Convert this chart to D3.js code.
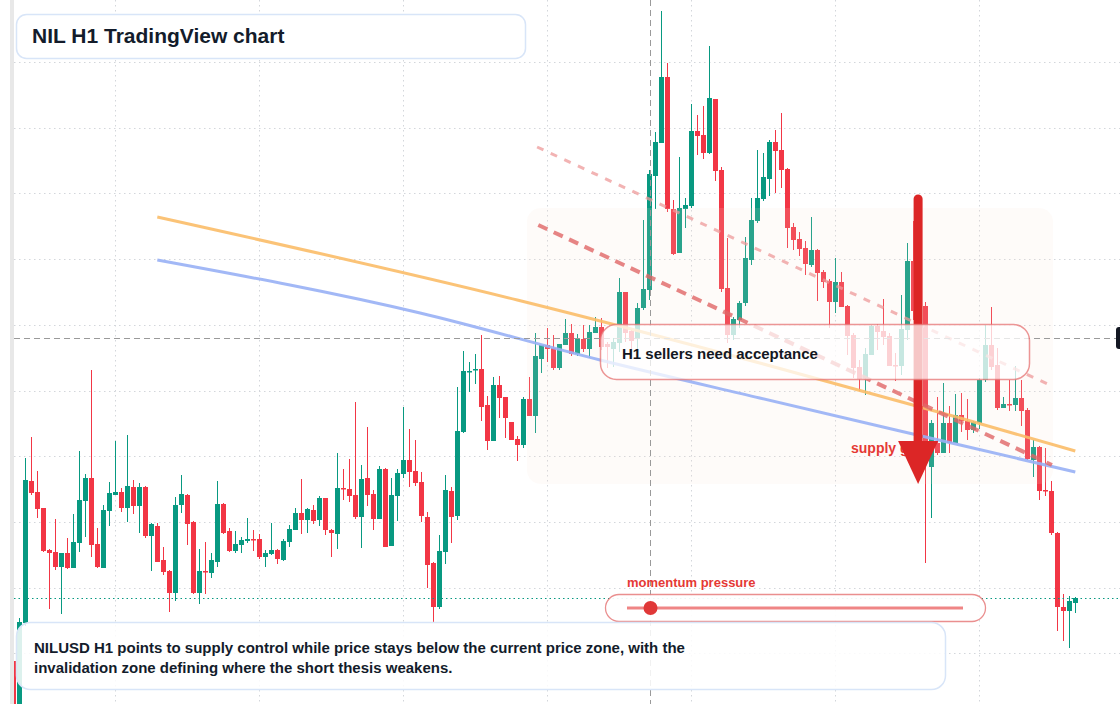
<!DOCTYPE html>
<html>
<head>
<meta charset="utf-8">
<script src="https://cdn.jsdelivr.net/npm/d3@7"></script>
<style>
  html, body { margin: 0; padding: 0; background: #fff; }
  svg { display: block; font-family: "Liberation Sans", Arial, Helvetica, sans-serif; }
</style>
</head>
<body>
<svg id="chart" width="1120" height="704"></svg>
<script>
// NILUSD H1 candles, one per hour
const opens = [
  0.339,0.280,0.377,0.519,0.508,0.492,0.450,0.448,0.433,0.447,
  0.432,0.457,0.499,0.522,0.456,0.432,0.489,0.505,0.508,0.492,
  0.513,0.494,0.513,0.464,0.474,0.440,0.429,0.407,0.495,0.505,
  0.478,0.407,0.429,0.427,0.438,0.496,0.469,0.449,0.455,0.459,
  0.461,0.461,0.443,0.446,0.450,0.440,0.458,0.470,0.487,0.480,
  0.490,0.480,0.502,0.470,0.466,0.512,0.511,0.505,0.483,0.522,
  0.506,0.481,0.531,0.454,0.504,0.526,0.540,0.529,0.518,0.483,
  0.437,0.393,0.448,0.509,0.484,0.568,0.628,0.630,0.631,0.595,
  0.559,0.615,0.603,0.578,0.561,0.555,0.601,0.584,0.641,0.655,
  0.652,0.632,0.655,0.667,0.646,0.661,0.651,0.667,0.673,0.656,
  0.651,0.657,0.708,0.669,0.662,0.692,0.710,0.824,0.857,0.923,
  0.791,0.747,0.791,0.794,0.869,0.865,0.847,0.901,0.830,0.712,
  0.665,0.680,0.697,0.740,0.779,0.801,0.821,0.858,0.850,0.831,
  0.773,0.761,0.752,0.735,0.750,0.728,0.719,0.698,0.718,0.694,
  0.665,0.633,0.622,0.645,0.674,0.669,0.664,0.635,0.634,0.670,
  0.739,0.689,0.694,0.533,0.557,0.547,0.577,0.557,0.585,0.579,
  0.570,0.577,0.620,0.655,0.635,0.592,0.596,0.595,0.602,0.590,
  0.540,0.553,0.510,0.509,0.467,0.393,0.389,0.397
];
const highs = [
  0.340,0.382,0.542,0.563,0.529,0.492,0.451,0.481,0.447,0.462,
  0.486,0.549,0.526,0.630,0.472,0.495,0.518,0.559,0.512,0.565,
  0.520,0.517,0.514,0.477,0.477,0.453,0.430,0.503,0.525,0.506,
  0.479,0.451,0.458,0.447,0.519,0.497,0.472,0.469,0.463,0.482,
  0.470,0.466,0.450,0.477,0.451,0.461,0.475,0.492,0.521,0.492,
  0.495,0.504,0.502,0.471,0.547,0.531,0.541,0.598,0.535,0.573,
  0.510,0.534,0.532,0.522,0.531,0.593,0.571,0.560,0.528,0.488,
  0.438,0.465,0.525,0.513,0.613,0.649,0.638,0.646,0.665,0.604,
  0.623,0.624,0.603,0.578,0.564,0.603,0.623,0.667,0.655,0.672,
  0.665,0.656,0.681,0.676,0.666,0.675,0.675,0.683,0.682,0.658,
  0.662,0.722,0.708,0.670,0.697,0.780,0.830,0.868,0.989,0.937,
  0.800,0.843,0.802,0.896,0.885,0.894,0.954,0.901,0.833,0.762,
  0.683,0.699,0.763,0.802,0.850,0.847,0.860,0.870,0.887,0.832,
  0.777,0.768,0.759,0.783,0.751,0.730,0.721,0.742,0.728,0.695,
  0.667,0.640,0.652,0.675,0.676,0.701,0.667,0.647,0.705,0.757,
  0.779,0.720,0.698,0.580,0.603,0.617,0.594,0.606,0.607,0.601,
  0.579,0.622,0.675,0.693,0.652,0.603,0.620,0.634,0.620,0.592,
  0.560,0.554,0.552,0.519,0.468,0.406,0.404,0.403
];
const lows = [
  0.270,0.275,0.374,0.505,0.482,0.448,0.391,0.430,0.386,0.431,
  0.432,0.448,0.463,0.443,0.432,0.432,0.474,0.505,0.488,0.478,
  0.486,0.467,0.462,0.429,0.438,0.425,0.388,0.399,0.487,0.455,
  0.406,0.396,0.406,0.422,0.433,0.466,0.448,0.447,0.447,0.457,
  0.449,0.441,0.433,0.445,0.436,0.439,0.453,0.470,0.466,0.467,
  0.476,0.474,0.465,0.443,0.451,0.500,0.498,0.481,0.452,0.494,
  0.470,0.481,0.453,0.454,0.479,0.522,0.513,0.514,0.478,0.412,
  0.378,0.391,0.436,0.457,0.480,0.567,0.608,0.616,0.579,0.550,
  0.559,0.582,0.562,0.560,0.539,0.552,0.584,0.567,0.627,0.638,
  0.630,0.630,0.655,0.644,0.644,0.648,0.642,0.667,0.650,0.632,
  0.633,0.648,0.658,0.643,0.648,0.690,0.700,0.791,0.857,0.788,
  0.745,0.747,0.772,0.792,0.845,0.841,0.846,0.819,0.708,0.657,
  0.660,0.672,0.694,0.735,0.777,0.799,0.804,0.807,0.812,0.752,
  0.750,0.744,0.725,0.733,0.699,0.712,0.672,0.687,0.693,0.645,
  0.622,0.609,0.605,0.645,0.650,0.655,0.634,0.619,0.625,0.660,
  0.680,0.660,0.437,0.482,0.545,0.547,0.547,0.557,0.568,0.560,
  0.567,0.571,0.618,0.630,0.590,0.592,0.589,0.589,0.574,0.540,
  0.523,0.500,0.504,0.465,0.369,0.359,0.352,0.387
];
const closes = [
  0.275,0.378,0.520,0.507,0.491,0.449,0.447,0.433,0.447,0.432,
  0.458,0.500,0.522,0.455,0.433,0.490,0.507,0.508,0.492,0.514,
  0.494,0.513,0.464,0.476,0.438,0.428,0.407,0.495,0.506,0.476,
  0.407,0.429,0.428,0.440,0.496,0.467,0.449,0.456,0.460,0.461,
  0.460,0.443,0.447,0.450,0.441,0.459,0.471,0.487,0.480,0.491,
  0.479,0.502,0.470,0.467,0.512,0.511,0.504,0.483,0.521,0.505,
  0.481,0.531,0.453,0.505,0.527,0.540,0.528,0.517,0.484,0.435,
  0.393,0.449,0.510,0.483,0.569,0.629,0.629,0.631,0.593,0.559,
  0.615,0.602,0.582,0.560,0.555,0.601,0.584,0.644,0.655,0.651,
  0.632,0.656,0.667,0.646,0.662,0.651,0.668,0.673,0.653,0.653,
  0.658,0.708,0.667,0.659,0.692,0.711,0.826,0.858,0.923,0.791,
  0.746,0.792,0.795,0.869,0.864,0.847,0.902,0.829,0.711,0.665,
  0.681,0.697,0.742,0.780,0.802,0.823,0.858,0.849,0.830,0.772,
  0.760,0.751,0.736,0.750,0.727,0.718,0.698,0.718,0.693,0.664,
  0.632,0.621,0.646,0.674,0.668,0.663,0.634,0.634,0.671,0.739,
  0.689,0.697,0.557,0.577,0.547,0.577,0.557,0.585,0.579,0.570,
  0.578,0.620,0.655,0.633,0.592,0.596,0.595,0.602,0.589,0.541,
  0.553,0.509,0.509,0.467,0.393,0.389,0.399,0.402
];

// horizontal grid levels
const gridPrices = [0.938, 0.872, 0.807, 0.741, 0.675, 0.609, 0.544, 0.478, 0.412, 0.347];

// moving averages as [candle index, price]
const emaFast = [[24,0.783],[84,0.700],[124.4,0.637],[157.8,0.582],[177,0.549]];
const emaSlow = [[24,0.740],[67.8,0.687],[97.8,0.640],[124.4,0.602],[157.8,0.555],[177,0.528]];

// descending channel
const upperTrend = [[87.3,0.853],[173.1,0.614]];
const lowerTrend = [[87.5,0.775],[173.1,0.535]];

// supply zone [start idx, end idx], [top, bottom]
const zoneIdx = [85.6, 173.3];
const zonePrices = [0.792, 0.516];

const crossIdx = 106.1;
const crossPrice = 0.662;
const lastPrice = 0.402;

// bearish arrow: index, from price, head base, tip
const arrowIdx = 150.8;
const arrowPrices = [0.805, 0.559, 0.516];

const momentumValue = [0.07];

const titleText = "NIL H1 TradingView chart";
const noteText = "H1 sellers need acceptance";
const zoneLabel = "supply gap";
const momentumLabel = "momentum pressure";
const summaryLines = [
  "NILUSD H1 points to supply control while price stays below the current price zone, with the",
  "invalidation zone defining where the short thesis weakens."
];

const UP = "#089981", DOWN = "#f23645";
const W = 1120, H = 704;
const HOUR = 3600e3;
const t0 = Date.UTC(2025, 4, 12, 7);

const times = opens.map((d, i) => new Date(t0 + i * HOUR));
const candles = times.map((t, i) => ({ t, o: opens[i], h: highs[i], l: lows[i], c: closes[i] }));

const x = d3.scaleUtc().domain([times[0], times[times.length - 1]]).range([13.3, 1075.3]);
const xi = i => x(new Date(t0 + i * HOUR));
const y = d3.scaleLinear().domain([0.296, 1.0]).range([H, 0]);

const svg = d3.select("#chart");
svg.append("rect").attr("width", W).attr("height", H).attr("fill", "#fff");

// grid
const grid = svg.append("g");
grid.selectAll("line.h")
  .data(gridPrices)
  .join("line")
  .attr("class", "h")
  .attr("x1", 14).attr("x2", W)
  .attr("y1", d => Math.round(y(d)) + 0.5)
  .attr("y2", d => Math.round(y(d)) + 0.5)
  .attr("stroke", "#d3d6db")
  .attr("stroke-dasharray", "1.5,3.5");
grid.selectAll("line.v")
  .data(x.ticks(d3.utcDay.every(1)))
  .join("line")
  .attr("class", "v")
  .attr("x1", d => Math.round(x(d)) + 0.5)
  .attr("x2", d => Math.round(x(d)) + 0.5)
  .attr("y1", 0).attr("y2", H)
  .attr("stroke", "#d3d6db")
  .attr("stroke-dasharray", "1.5,3.5");

// candles
const cg = svg.append("g");
const cs = cg.selectAll("g")
  .data(candles)
  .join("g")
  .attr("fill", d => d.c >= d.o ? UP : DOWN)
  .attr("stroke", d => d.c >= d.o ? UP : DOWN);
cs.append("line")
  .attr("x1", d => Math.round(x(d.t)) + 0.5)
  .attr("x2", d => Math.round(x(d.t)) + 0.5)
  .attr("y1", d => y(d.h))
  .attr("y2", d => y(d.l))
  .attr("stroke-width", 1);
cs.append("rect")
  .attr("stroke", "none")
  .attr("x", d => Math.round(x(d.t)) - 2)
  .attr("width", 5)
  .attr("y", d => y(Math.max(d.o, d.c)))
  .attr("height", d => Math.max(1.5, Math.abs(y(d.o) - y(d.c))));

// supply zone shade
svg.append("rect")
  .attr("x", xi(zoneIdx[0]))
  .attr("width", xi(zoneIdx[1]) - xi(zoneIdx[0]))
  .attr("y", y(zonePrices[0]))
  .attr("height", y(zonePrices[1]) - y(zonePrices[0]))
  .attr("rx", 14)
  .attr("fill", "#f8e4d4")
  .attr("opacity", 0.14);

// moving averages
const lineGen = d3.line().x(d => xi(d[0])).y(d => y(d[1])).curve(d3.curveMonotoneX);
svg.append("path").attr("d", lineGen(emaFast))
  .attr("fill", "none").attr("stroke", "#fbbd68").attr("stroke-width", 3).attr("opacity", 0.9);
svg.append("path").attr("d", lineGen(emaSlow))
  .attr("fill", "none").attr("stroke", "#98b0f5").attr("stroke-width", 3).attr("opacity", 0.9);

// channel
svg.append("path").attr("d", d3.line().x(d => xi(d[0])).y(d => y(d[1]))(upperTrend))
  .attr("fill", "none").attr("stroke", "#ee9a9a").attr("stroke-width", 3)
  .attr("stroke-dasharray", "7,8").attr("opacity", 0.75);
svg.append("path").attr("d", d3.line().x(d => xi(d[0])).y(d => y(d[1]))(lowerTrend))
  .attr("fill", "none").attr("stroke", "#e06666").attr("stroke-width", 4)
  .attr("stroke-dasharray", "10,7").attr("opacity", 0.8);

// crosshair
svg.append("line")
  .attr("x1", Math.round(xi(crossIdx)) + 0.5).attr("x2", Math.round(xi(crossIdx)) + 0.5)
  .attr("y1", 0).attr("y2", H)
  .attr("stroke", "#9a9a9a").attr("stroke-dasharray", "6,4");
svg.append("line")
  .attr("x1", 14).attr("x2", 1116)
  .attr("y1", Math.round(y(crossPrice)) + 0.5).attr("y2", Math.round(y(crossPrice)) + 0.5)
  .attr("stroke", "#9a9a9a").attr("stroke-dasharray", "6,4");

// last price line
svg.append("line")
  .attr("x1", 14).attr("x2", W)
  .attr("y1", Math.round(y(lastPrice)) + 0.5).attr("y2", Math.round(y(lastPrice)) + 0.5)
  .attr("stroke", UP).attr("stroke-width", 1.2).attr("stroke-dasharray", "1.5,3");

// zone label, partly under the arrow head
svg.append("text")
  .attr("x", 851).attr("y", 453)
  .attr("fill", "#e53935")
  .attr("font-size", 14).attr("font-weight", "bold")
  .text(zoneLabel);

// arrow
const ax = xi(arrowIdx);
svg.append("line")
  .attr("x1", ax).attr("x2", ax)
  .attr("y1", y(arrowPrices[0]) + 4).attr("y2", y(arrowPrices[1]) + 2)
  .attr("stroke", "#dc2626").attr("stroke-width", 9).attr("stroke-linecap", "round");
svg.append("path")
  .attr("d", `M${ax - 20},${y(arrowPrices[1])}L${ax + 20},${y(arrowPrices[1])}L${ax},${y(arrowPrices[2])}Z`)
  .attr("fill", "#dc2626");

// note box
svg.append("rect")
  .attr("x", 600.5).attr("y", 324.5).attr("width", 429).attr("height", 55).attr("rx", 16)
  .attr("fill", "#fff").attr("fill-opacity", 0.74)
  .attr("stroke", "#e57373").attr("stroke-opacity", 0.75).attr("stroke-width", 1.5);
svg.append("text")
  .attr("x", 622).attr("y", 359)
  .attr("fill", "#131722").attr("font-size", 15).attr("font-weight", "bold")
  .text(noteText);

// momentum gauge
const mScale = d3.scaleLinear().domain([0, 1]).range([627, 963]);
svg.append("text")
  .attr("x", 627).attr("y", 587)
  .attr("fill", "#e53935").attr("font-size", 13).attr("font-weight", "bold")
  .text(momentumLabel);
svg.append("rect")
  .attr("x", 605.5).attr("y", 594.5).attr("width", 380).attr("height", 27).attr("rx", 13.5)
  .attr("fill", "#fff").attr("fill-opacity", 0.92)
  .attr("stroke", "#e57373").attr("stroke-opacity", 0.8).attr("stroke-width", 1.3);
svg.append("line")
  .attr("x1", mScale(0)).attr("x2", mScale(1))
  .attr("y1", 608).attr("y2", 608)
  .attr("stroke", "#ef8585").attr("stroke-width", 3);
svg.selectAll("circle.m")
  .data(momentumValue)
  .join("circle")
  .attr("class", "m")
  .attr("cx", d => mScale(d)).attr("cy", 608).attr("r", 7)
  .attr("fill", "#e03838");

// summary box
svg.append("rect")
  .attr("x", 16.5).attr("y", 622.5).attr("width", 929).attr("height", 67).attr("rx", 14)
  .attr("fill", "#fff").attr("fill-opacity", 0.86)
  .attr("stroke", "#d8e5f8").attr("stroke-width", 1.5);
svg.append("g").selectAll("text")
  .data(summaryLines)
  .join("text")
  .attr("x", 34).attr("y", (d, i) => 653 + i * 19.5)
  .attr("fill", "#131c2b").attr("font-size", 15).attr("font-weight", "bold")
  .text(d => d);

// title box
svg.append("rect")
  .attr("x", 16.5).attr("y", 14.5).attr("width", 509).attr("height", 44).attr("rx", 10)
  .attr("fill", "#fff")
  .attr("stroke", "#d8e5f8").attr("stroke-width", 1.5);
svg.append("text")
  .attr("x", 32).attr("y", 43)
  .attr("fill", "#131c2b").attr("font-size", 21).attr("font-weight", "bold")
  .text(titleText);

// left scale edge + price tag at right
svg.append("rect").attr("x", 10).attr("y", 0).attr("width", 4).attr("height", H).attr("fill", "#e8e8e8");
svg.append("rect").attr("x", 1116).attr("y", y(crossPrice) - 11).attr("width", 30).attr("height", 22)
  .attr("rx", 3).attr("fill", "#131722");
</script>
</body>
</html>
